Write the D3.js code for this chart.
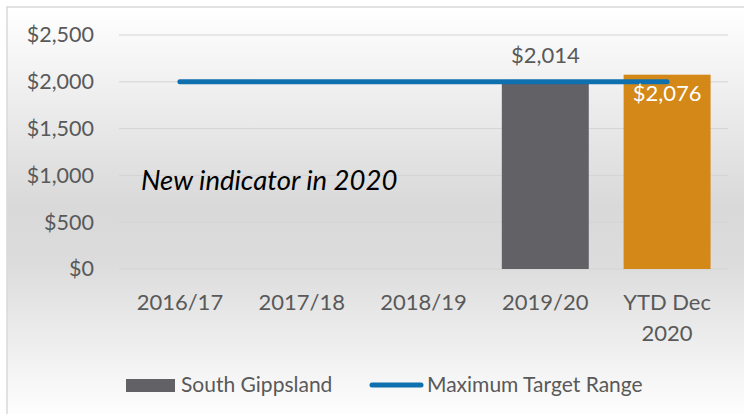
<!DOCTYPE html>
<html>
<head>
<meta charset="utf-8">
<script src="https://cdn.jsdelivr.net/npm/d3@7"></script>
<style>
  html, body { margin: 0; padding: 0; background: #ffffff; }
  svg { display: block; }
  text { font-family: Lato, "Open Sans", sans-serif; }
</style>
</head>
<body>
<svg id="chart" width="744" height="414"></svg>
<script>
// ---- data ----
const categories = ["2016/17", "2017/18", "2018/19", "2019/20", "YTD Dec 2020"];
const categoryLines = [["2016/17"], ["2017/18"], ["2018/19"], ["2019/20"], ["YTD Dec", "2020"]];
const southGippsland = [null, null, null, 2014, 2076];
const barColors = ["#616166", "#616166", "#616166", "#616166", "#D38818"];
const maxTargetRange = [2000, 2000, 2000, 2000, 2000];
const yTicks = [0, 500, 1000, 1500, 2000, 2500];
const seriesNames = ["South Gippsland", "Maximum Target Range"];
const annotation = "New indicator in 2020";

// ---- setup ----
const W = 744, H = 414;
const svg = d3.select("#chart");
const defs = svg.append("defs");
const grad = defs.append("linearGradient").attr("id", "bg").attr("x1", 0).attr("y1", 0).attr("x2", 0).attr("y2", 1);
grad.append("stop").attr("offset", "0%").attr("stop-color", "#ffffff");
grad.append("stop").attr("offset", "48%").attr("stop-color", "#d9d9d9");
grad.append("stop").attr("offset", "62%").attr("stop-color", "#dcdcdc");
grad.append("stop").attr("offset", "100%").attr("stop-color", "#ffffff");

svg.append("rect").attr("x", 7).attr("y", 7).attr("width", W).attr("height", H)
  .attr("fill", "url(#bg)").attr("stroke", "#d9d9d9").attr("stroke-width", 1.5);

const plot = { left: 119, right: 728, top: 35, bottom: 269 };

const x = d3.scaleBand().domain(categories).range([plot.left, plot.right])
  .paddingInner(0.286).paddingOuter(0.143);
const y = d3.scaleLinear().domain([0, 2500]).range([plot.bottom, plot.top]);

// gridlines
svg.append("g").selectAll("line").data(yTicks).join("line")
  .attr("x1", plot.left).attr("x2", plot.right)
  .attr("y1", d => y(d)).attr("y2", d => y(d))
  .attr("stroke", "#d4d4d4").attr("stroke-width", 1);

// y axis labels
const yAxis = d3.axisLeft(y).tickValues(yTicks).tickSize(0).tickPadding(0)
  .tickFormat(d => "$" + d3.format(",")(d));
const gy = svg.append("g").attr("transform", `translate(94,0)`).call(yAxis);
gy.select(".domain").remove();
gy.selectAll("text").attr("fill", "#595959").attr("font-size", 21.5).attr("font-family", "Lato");

// bars
const barData = categories.map((c, i) => ({ c, v: southGippsland[i], col: barColors[i] })).filter(d => d.v != null);
svg.append("g").selectAll("rect").data(barData).join("rect")
  .attr("x", d => x(d.c)).attr("width", x.bandwidth())
  .attr("y", d => y(d.v)).attr("height", d => y(0) - y(d.v))
  .attr("fill", d => d.col);

// line
const line = d3.line().x((d, i) => x(categories[i]) + x.bandwidth() / 2).y(d => y(d));
svg.append("path").datum(maxTargetRange).attr("d", line)
  .attr("fill", "none").attr("stroke", "#0F70B0").attr("stroke-width", 5)
  .attr("stroke-linecap", "round");

// data labels
svg.append("text").attr("x", x(categories[3]) + x.bandwidth() / 2).attr("y", 63)
  .attr("text-anchor", "middle").attr("font-size", 22).attr("fill", "#595959")
  .text("$" + d3.format(",")(southGippsland[3]));
svg.append("text").attr("x", x(categories[4]) + x.bandwidth() / 2).attr("y", 101)
  .attr("text-anchor", "middle").attr("font-size", 22).attr("fill", "#ffffff")
  .text("$" + d3.format(",")(southGippsland[4]));

// x axis labels
const gx = svg.append("g");
categories.forEach((c, i) => {
  const t = gx.append("text").attr("x", x(c) + x.bandwidth() / 2).attr("y", 310)
    .attr("text-anchor", "middle").attr("font-size", 22).attr("fill", "#595959");
  categoryLines[i].forEach((ln, j) => {
    t.append("tspan").attr("x", x(c) + x.bandwidth() / 2).attr("y", 310 + j * 31).text(ln);
  });
});

// annotation
svg.append("text").attr("x", 141).attr("y", 190).attr("font-size", 27.5)
  .attr("font-style", "italic").attr("fill", "#000000").text(annotation);

// legend
const lg = svg.append("g");
lg.append("rect").attr("x", 126).attr("y", 379).attr("width", 49).attr("height", 13).attr("fill", barColors[0]);
lg.append("text").attr("x", 181).attr("y", 392).attr("font-size", 21).attr("fill", "#595959").text(seriesNames[0]);
lg.append("line").attr("x1", 372).attr("x2", 421).attr("y1", 385).attr("y2", 385)
  .attr("stroke", "#0F70B0").attr("stroke-width", 5).attr("stroke-linecap", "round");
lg.append("text").attr("x", 427).attr("y", 392).attr("font-size", 21).attr("fill", "#595959").text(seriesNames[1]);
</script>
</body>
</html>
